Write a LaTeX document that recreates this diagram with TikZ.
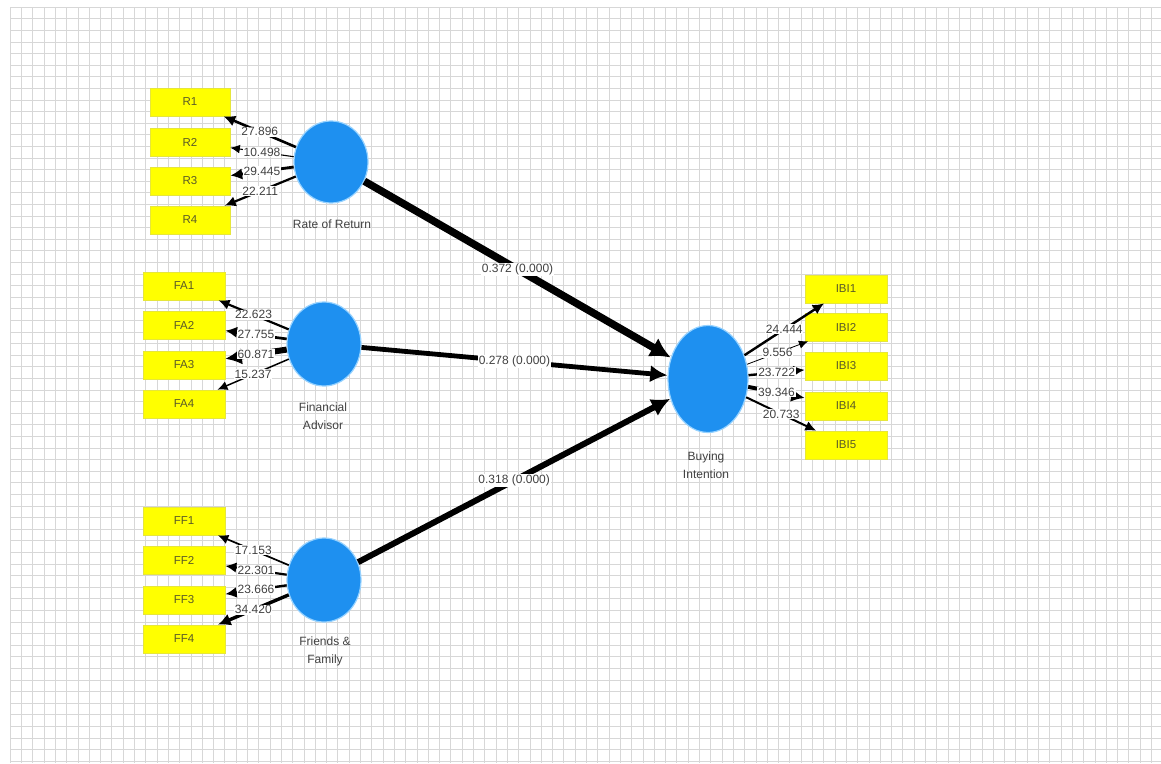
\documentclass[tikz,border=0pt]{standalone}
\usepackage{fontspec}
\setmainfont{Liberation Sans}
\usetikzlibrary{arrows.meta,shapes.geometric}
\definecolor{lv}{RGB}{30,144,240}
\definecolor{lvrim}{RGB}{150,210,255}
\definecolor{mv}{RGB}{255,255,0}
\definecolor{mvrim}{RGB}{230,230,60}
\definecolor{gridc}{RGB}{215,215,215}
\definecolor{txt}{RGB}{65,65,65}
\definecolor{boxtxt}{RGB}{90,90,40}

\begin{document}
\begin{tikzpicture}[x=1pt,y=-1pt,
  latent/.style={ellipse, fill=lv, draw=lvrim, line width=1.2pt, inner sep=0pt},
  indicator/.style={rectangle, fill=mv, draw=mvrim, line width=0.6pt,
    minimum width=80pt, minimum height=28pt, inner sep=0pt,
    font=\fontsize{11.5}{13}\selectfont, text=boxtxt},
  caption/.style={align=center, font=\fontsize{12}{18}\selectfont, text=txt},
  val/.style={fill=white, inner sep=0.8pt, font=\fontsize{12}{13}\selectfont, text=txt},
  load/.style={line width=#1pt, black, -{Latex[length=8pt 1.4, width=7pt 1.6]}},
  path/.style={line width=#1pt, black, -{Latex[length=12pt 1.1, width=10pt 1.5]}}
]
\useasboundingbox (0,0) rectangle (1161,763);
\fill[white] (0,0) rectangle (1161,763);

% background grid
\foreach \i in {0,...,102}
  \draw[gridc, line width=0.6pt] (10+\i*11.3,7) -- (10+\i*11.3,763);
\foreach \j in {0,...,65}
  \draw[gridc, line width=0.6pt] (10,7+\j*11.6) -- (1161,7+\j*11.6);

% latent variables
\node[latent, minimum width=74pt, minimum height=82pt] (ror) at (331,162) {};
\node[latent, minimum width=74pt, minimum height=84pt] (fa)  at (324,344) {};
\node[latent, minimum width=74pt, minimum height=84pt] (ff)  at (324,580) {};
\node[latent, minimum width=80pt, minimum height=107pt] (bi) at (708,379) {};

\node[caption] (rorcap) at (332,224) {Rate of Return};
\node[caption] (facap)  at (323,416) {Financial\\Advisor};
\node[caption] (ffcap)  at (325,651) {Friends \&\\Family};
\node[caption] (bicap)  at (706,465) {Buying\\Intention};

% indicators
\node[indicator] (r1) at (190,102) {R1};
\node[indicator] (r2) at (190,142) {R2};
\node[indicator] (r3) at (190,181) {R3};
\node[indicator] (r4) at (190,220) {R4};

\node[indicator, minimum width=82pt] (fa1) at (184,286) {FA1};
\node[indicator, minimum width=82pt] (fa2) at (184,325) {FA2};
\node[indicator, minimum width=82pt] (fa3) at (184,365) {FA3};
\node[indicator, minimum width=82pt] (fa4) at (184,404) {FA4};

\node[indicator, minimum width=82pt] (ff1) at (184,521) {FF1};
\node[indicator, minimum width=82pt] (ff2) at (184,560) {FF2};
\node[indicator, minimum width=82pt] (ff3) at (184,600) {FF3};
\node[indicator, minimum width=82pt] (ff4) at (184,639) {FF4};

\node[indicator, minimum width=82pt] (ibi1) at (846,289) {IBI1};
\node[indicator, minimum width=82pt] (ibi2) at (846,327) {IBI2};
\node[indicator, minimum width=82pt] (ibi3) at (846,366) {IBI3};
\node[indicator, minimum width=82pt] (ibi4) at (846,406) {IBI4};
\node[indicator, minimum width=82pt] (ibi5) at (846,445) {IBI5};

% outer loadings
\draw[load=2.6] (ror) -- node[val] {27.896} (r1);
\draw[load=1.1] (ror) -- node[val] {10.498} (r2);
\draw[load=2.8] (ror) -- node[val] {29.445} (r3);
\draw[load=2.2] (ror) -- node[val] {22.211} (r4);

\draw[load=2.2] (fa) -- node[val] {22.623} (fa1);
\draw[load=2.7] (fa) -- node[val] {27.755} (fa2);
\draw[load=6.0] (fa) -- node[val] {60.871} (fa3);
\draw[load=1.5] (fa) -- node[val] {15.237} (fa4);

\draw[load=1.7] (ff) -- node[val] {17.153} (ff1);
\draw[load=2.2] (ff) -- node[val] {22.301} (ff2);
\draw[load=2.4] (ff) -- node[val] {23.666} (ff3);
\draw[load=3.4] (ff) -- node[val] {34.420} (ff4);

\draw[load=2.4] (bi) -- node[val] {24.444} (ibi1);
\draw[load=0.8] (bi) -- node[val] {9.556} (ibi2);
\draw[load=2.4] (bi) -- node[val] {23.722} (ibi3);
\draw[load=3.9] (bi) -- node[val] {39.346} (ibi4);
\draw[load=2.0] (bi) -- node[val] {20.733} (ibi5);

% path coefficients
\draw[path=7.5] (ror) -- node[val] {0.372 (0.000)} (bi);
\draw[path=4.8] (fa)  -- node[val] {0.278 (0.000)} (bi);
\draw[path=6.0] (ff)  -- node[val] {0.318 (0.000)} (bi);
\end{tikzpicture}
\end{document}
